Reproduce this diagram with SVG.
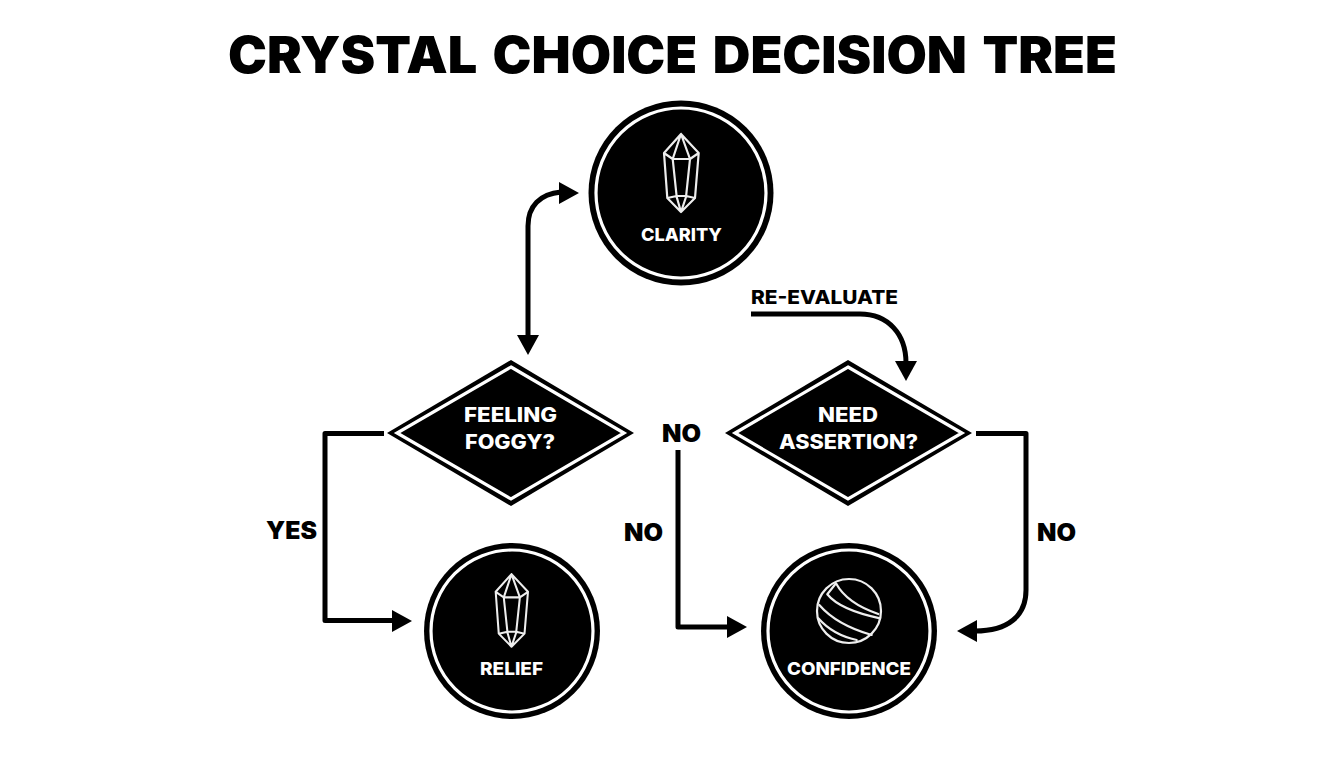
<svg xmlns="http://www.w3.org/2000/svg" width="1344" height="768" viewBox="0 0 1344 768">
<style>
text{font-family:Inter,"Liberation Sans",Arial,sans-serif;font-weight:800;fill:#000}
.title{font-size:51px;font-weight:900;word-spacing:5px}
.lab{font-size:24px;font-weight:900}
.re{font-size:19px;font-weight:800}
.t{fill:#fff;font-size:20px;font-weight:800}
.s{fill:#fff;font-size:18px;font-weight:800}
.ring{fill:#000}
.in{fill:none;stroke:#fff;stroke-width:3.200}
.ico{fill:none;stroke:#eee;stroke-width:2.200;stroke-linejoin:round;stroke-linecap:round}
.c{fill:none;stroke:#000;stroke-width:5;stroke-linejoin:round}
.a{fill:#000}
</style>
<defs>
<g id="crystal">
<path class="ico" d="M0-59L-17-40L-13.700 5L0 19L14 5L17.700-40ZM-17-40L-8.300-34H9L17.700-40M0-59L-8.300-34L-4.300 4L0 19L5 4L9-34ZM-13.700 5L-4.300 3H5L14 5"/>
</g>
</defs>
<rect width="1344" height="768" fill="#fff"/>
<text class="title" x="228" y="73" textLength="889" lengthAdjust="spacingAndGlyphs">CRYSTAL CHOICE DECISION TREE</text>
<g id="connectors">
<path class="c" d="M528 337V226C528 206 540 194 561 192"/>
<path class="a" d="M559 182L579 193L559 204ZM517 335H539L528 355Z"/>
<path class="c" d="M751 314H860C888 314 906 334 906 363"/>
<path class="a" d="M895 361H917L906 381Z"/>
<path class="c" d="M384 433.500H325V620.500H393"/>
<path class="a" d="M392 610L412 621L392 632Z"/>
<path class="c" d="M678 450V627H730"/>
<path class="a" d="M727 616L747 627L727 638Z"/>
<path class="c" d="M976 433.500H1026V590C1026 616 1008 631 975 631"/>
<path class="a" d="M977 620L957 631L977 642Z"/>
</g>
<g id="labels">
<text class="re" x="751" y="304" textLength="147" lengthAdjust="spacingAndGlyphs">RE-EVALUATE</text>
<text class="lab" x="266" y="539" textLength="51" lengthAdjust="spacingAndGlyphs">YES</text>
<text class="lab" x="662" y="442" textLength="39" lengthAdjust="spacingAndGlyphs">NO</text>
<text class="lab" x="624" y="541" textLength="39" lengthAdjust="spacingAndGlyphs">NO</text>
<text class="lab" x="1037" y="541" textLength="39" lengthAdjust="spacingAndGlyphs">NO</text>
</g>
<g id="node-clarity">
<circle class="ring" cx="681" cy="193" r="92.500"/><circle class="in" cx="681" cy="193" r="85"/>
<use href="#crystal" transform="translate(681 193)"/>
<text class="s" x="641" y="241" textLength="81" lengthAdjust="spacingAndGlyphs">CLARITY</text>
</g>
<g id="node-feeling-foggy">
<path class="ring" d="M511 360L634 433L511 506L387 433Z"/>
<path class="in" d="M511 367L624 433L511 499L397 433Z"/>
<text class="t" x="464" y="422" textLength="93" lengthAdjust="spacingAndGlyphs">FEELING</text>
<text class="t" x="465" y="449" textLength="90" lengthAdjust="spacingAndGlyphs">FOGGY?</text>
</g>
<g id="node-need-assertion">
<path class="ring" d="M848 360L972 433L848 506L725 433Z"/>
<path class="in" d="M848 367L962 433L848 499L735 433Z"/>
<text class="t" x="818" y="422" textLength="60" lengthAdjust="spacingAndGlyphs">NEED</text>
<text class="t" x="779" y="449" textLength="139" lengthAdjust="spacingAndGlyphs">ASSERTION?</text>
</g>
<g id="node-relief">
<circle class="ring" cx="512" cy="631" r="88"/><circle class="in" cx="512" cy="631" r="81"/>
<use href="#crystal" transform="translate(511.500 629) scale(.93)"/>
<text class="s" x="480" y="675" textLength="63" lengthAdjust="spacingAndGlyphs">RELIEF</text>
</g>
<g id="node-confidence">
<circle class="ring" cx="849" cy="631" r="88"/><circle class="in" cx="849" cy="631" r="81"/>
<circle class="ico" cx="849" cy="611" r="32"/>
<path class="ico" d="M836 583.300Q846.700 603.300 878.300 614M827.300 594.300Q840 610 880 618.300M819.300 605Q836.700 625 871.700 635M818.300 618.300Q833 635 856.700 640M827.300 594.300L836 583.300"/>
<text class="s" x="787" y="675" textLength="124" lengthAdjust="spacingAndGlyphs">CONFIDENCE</text>
</g>
</svg>
